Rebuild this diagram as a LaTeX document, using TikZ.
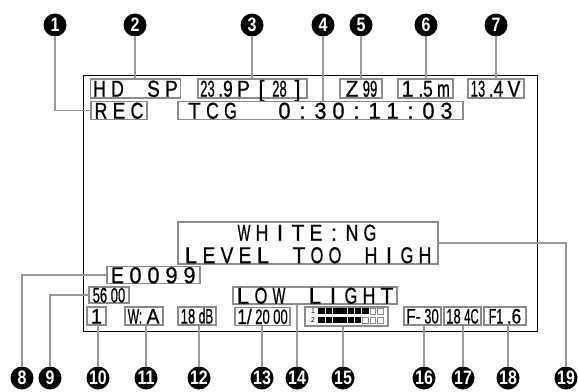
\documentclass[tikz,border=0pt]{standalone}
\usepackage{fontspec}
\setmainfont{Liberation Sans}
\newfontfamily\lcdface[FakeBold=0.8]{Liberation Sans}
\usepackage{graphicx}
\definecolor{boxgray}{gray}{0.55}
\definecolor{leadgray}{gray}{0.6}
\newlength\lcdw \setlength\lcdw{18pt}
\def\lcdEND{}
\def\lcdstopmark{\lcdEND}
\def\lcdsplit#1#2\lcdnil{\def\lcdrest{#2}}
\newcommand\lcdcell[1]{\lcdsplit#1\lcdnil\makebox[\lcdw][c]{\ifx\lcdrest\empty\sbox0{#1}\ifdim\wd0>12.8pt\relax\resizebox{12.8pt}{\height}{#1}\else\scalebox{0.95}[1]{#1}\fi\else\resizebox{14.5pt}{\height}{#1}\fi}}
\def\lcdloop#1{\def\lcdarg{#1}\ifx\lcdarg\lcdstopmark\else\lcdcell{#1}\expandafter\lcdloop\fi}
\newcommand\lcd[1]{\lcdloop#1{\lcdEND}}
\newcommand\lcdfont{\lcdface\fontsize{23}{23}\selectfont}
\newcommand\lcdsmall{\lcdface\fontsize{21}{21}\selectfont}
\tikzset{
  lbox/.style={draw=boxgray, line width=1.6pt, inner sep=0pt, font=\lcdfont, text height=16.4pt, text depth=0pt},
  sbox/.style={lbox, font=\lcdsmall, text height=15pt},
  lead/.style={draw=leadgray, line width=1.5pt},
  num/.style={circle, fill=black, text=white, minimum size=23pt, inner sep=0pt, font=\fontsize{19.5}{19.5}\selectfont\bfseries},
  lcdtext/.style={inner sep=0pt, font=\lcdfont, text height=16.4pt, text depth=0pt}
}
\newcommand\nb[1]{\scalebox{0.82}[1]{#1}}
\begin{document}
\begin{tikzpicture}[x=1pt, y=-1pt]
\useasboundingbox (0,0) rectangle (578,391);
% screen frame
\node[draw, line width=1pt, minimum width=454pt, minimum height=256pt, inner sep=0pt] (screen) at (310,203) {};
% row 1
\node[lbox, minimum width=89pt, minimum height=19pt] (hdsp) at (135.5,88.5) {\lcd{HD~SP}};
\node[lbox, minimum width=109pt, minimum height=19pt] (fps) at (252.5,88.5) {\lcd{{23}{.9}P[{28}]}};
\node[lbox, minimum width=42pt, minimum height=19pt] (zoom) at (361,88.5) {\lcd{Z{99}}};
\node[lbox, minimum width=55pt, minimum height=19pt] (dist) at (425.5,88.5) {\lcd{1{.5}m}};
\node[lbox, minimum width=56pt, minimum height=19pt] (volt) at (496,88.5) {\lcd{{13}{.4}V}};
% row 2
\node[lbox, minimum width=56pt, minimum height=18pt] (rec) at (119,110.5) {\lcd{REC}};
\node[lbox, minimum width=285pt, minimum height=18pt] (tcg) at (320.5,110.5) {\lcd{TCG~~0:30:11:03}};
% warning
\node[lbox, minimum width=260pt, minimum height=42pt] (wn) at (308,243) {};
\node[lcdtext] (wn1) at (307,232.5) {\lcd{WHITE:NG}};
\node[lcdtext] (wn2) at (308,255) {\lcd{LEVEL~TOO~HIGH}};
% lower items
\node[lbox, minimum width=93pt, minimum height=17pt] (e99) at (153.5,275) {\lcd{E0099}};
\node[sbox, minimum width=40pt, minimum height=16pt] (b56) at (109,295) {\lcd{{56}{00}}};
\node[lbox, minimum width=164pt, minimum height=17pt] (low) at (315,295.5) {\lcd{LOW~LIGHT}};
% bottom row
\node[sbox, minimum width=19pt, minimum height=18pt] (b1) at (96.5,316) {\lcd{1}};
\node[sbox, minimum width=38pt, minimum height=18pt] (wa) at (144,316) {\lcd{{W:}A}};
\node[sbox, minimum width=38pt, minimum height=18pt] (db) at (197,316) {\lcd{{18}{dB}}};
\node[sbox, minimum width=55pt, minimum height=18pt] (sh) at (262.5,316.5) {\lcd{{1/}{20}{00}}};
\node[lbox, minimum width=83pt, minimum height=19pt] (meter) at (346.5,316.5) {};
\node[sbox, minimum width=37pt, minimum height=18pt] (f30) at (422.5,316) {\lcd{{F-}{30}}};
\node[sbox, minimum width=37pt, minimum height=18pt] (temp) at (462.5,316) {\lcd{{18}{4C}}};
\node[sbox, minimum width=42pt, minimum height=18pt] (iris) at (505,316) {\lcd{{F1}{.6}}};
% audio meter
\node[inner sep=0pt, font=\fontsize{7}{7}\selectfont] (ch1) at (313,311) {1};
\node[inner sep=0pt, font=\fontsize{7}{7}\selectfont] (ch2) at (313,320) {2};
\foreach \i in {0,...,6} \fill ({318+\i*7.3+0.4},308) rectangle ++(6.5,6);
\foreach \i in {7,8} \draw[boxgray, line width=0.8pt] ({318+\i*7.3+0.8},308.5) rectangle ++(5.7,5.5);
\foreach \i in {0,...,5} \fill ({318+\i*7.3+0.4},317) rectangle ++(6.5,6);
\foreach \i in {6,7,8} \draw[boxgray, line width=0.8pt] ({318+\i*7.3+0.8},317.5) rectangle ++(5.7,5.5);
% number circles
\node[num] (n1) at (55,25) {\nb{1}};
\node[num] (n2) at (135,25) {\nb{2}};
\node[num] (n3) at (252,25) {\nb{3}};
\node[num] (n4) at (323,25) {\nb{4}};
\node[num] (n5) at (361,25) {\nb{5}};
\node[num] (n6) at (426,25) {\nb{6}};
\node[num] (n7) at (496,25) {\nb{7}};
\node[num] (n8) at (22,378) {\nb{8}};
\node[num] (n9) at (50,378) {\nb{9}};
\node[num] (n10) at (98,378) {\nb{10}};
\node[num] (n11) at (146,378) {\nb{11}};
\node[num] (n12) at (199,378) {\nb{12}};
\node[num] (n13) at (262,378) {\nb{13}};
\node[num] (n14) at (297,378) {\nb{14}};
\node[num] (n15) at (343,378) {\nb{15}};
\node[num] (n16) at (424,378) {\nb{16}};
\node[num] (n17) at (463,378) {\nb{17}};
\node[num] (n18) at (508,378) {\nb{18}};
\node[num] (n19) at (566,378) {\nb{19}};
% leaders
\draw[lead] (n1.south) |- (rec.west);
\draw[lead] (n2.south) -- (n2.south |- hdsp.north);
\draw[lead] (n3.south) -- (n3.south |- fps.north);
\draw[lead] (n4.south) -- (n4.south |- tcg.north);
\draw[lead] (n5.south) -- (n5.south |- zoom.north);
\draw[lead] (n6.south) -- (n6.south |- dist.north);
\draw[lead] (n7.south) -- (n7.south |- volt.north);
\draw[lead] (n8.north) |- (e99.west);
\draw[lead] (n9.north) |- (b56.west);
\draw[lead] (n10.north) -- (n10.north |- b1.south);
\draw[lead] (n11.north) -- (n11.north |- wa.south);
\draw[lead] (n12.north) -- (n12.north |- db.south);
\draw[lead] (n13.north) -- (n13.north |- sh.south);
\draw[lead] (n14.north) -- (n14.north |- low.south);
\draw[lead] (n15.north) -- (n15.north |- meter.south);
\draw[lead] (n16.north) -- (n16.north |- f30.south);
\draw[lead] (n17.north) -- (n17.north |- temp.south);
\draw[lead] (n18.north) -- (n18.north |- iris.south);
\draw[lead] (wn.east) -| (n19.north);
\end{tikzpicture}
\end{document}
